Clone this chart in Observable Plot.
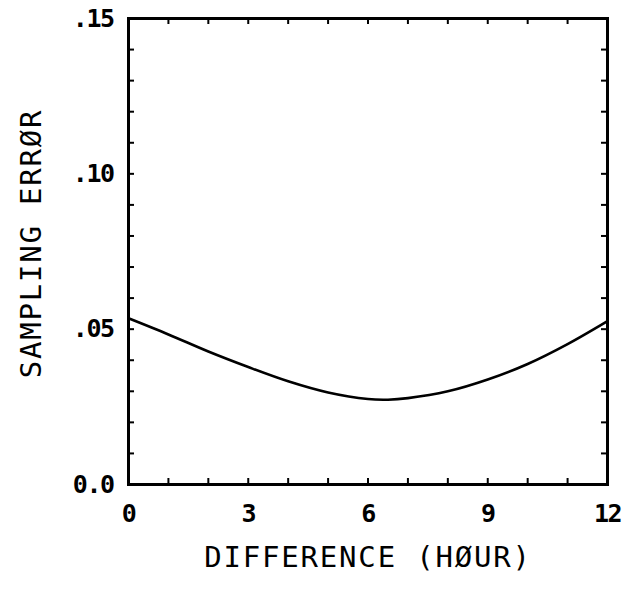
<!DOCTYPE html>
<html>
<head>
<meta charset="utf-8">
<script src="https://cdn.jsdelivr.net/npm/d3@7"></script>
<script src="https://cdn.jsdelivr.net/npm/@observablehq/plot@0.6"></script>
<style>
  html, body { margin: 0; padding: 0; background: #fff; }
  #chart svg { display: block; }
</style>
</head>
<body>
<div id="chart"></div>
<script>
// Data
const hours  = [0, 1, 2, 3, 4, 5, 6, 6.5, 7, 8, 9, 10, 11, 12];
const errors = [0.0535, 0.0483, 0.0428, 0.0378, 0.0332, 0.0296, 0.0275, 0.0273, 0.0278, 0.0300, 0.0338, 0.0388, 0.0452, 0.0526];

const xMinorTicks = [1, 2, 3, 4, 5, 6, 7, 8, 9, 10, 11];
const yMinorTicks = [0.01, 0.02, 0.03, 0.04, 0.05, 0.06, 0.07, 0.08, 0.09, 0.10, 0.11, 0.12, 0.13, 0.14];
const xTickLabels = [0, 3, 6, 9, 12];
const yTickValues = [0, 0.05, 0.10, 0.15];
const yTickLabels = ["0.0", ".05", ".10", ".15"];
const xTitle = "DIFFERENCE (HØUR)";
const yTitle = "SAMPLING ERRØR";

const W = 632, H = 593;
const mL = 128, mR = 25, mT = 18, mB = 109;
const innerW = W - mL - mR, innerH = H - mT - mB;
const tick = 6;

const rows = hours.map((h, i) => ({hour: h, err: errors[i]}));
const font = "DejaVu Sans Mono";

const chart = Plot.plot({
  width: W, height: H,
  marginLeft: mL, marginRight: mR, marginTop: mT, marginBottom: mB,
  style: {fontFamily: font, color: "#000", background: "#fff"},
  x: {domain: [0, 12], axis: null},
  y: {domain: [0, 0.15], axis: null},
  marks: [
    // inward minor ticks on all four sides
    Plot.ruleX(xMinorTicks, {x: d => d, insetTop: innerH - tick, strokeWidth: 2}),
    Plot.ruleX(xMinorTicks, {x: d => d, insetBottom: innerH - tick, strokeWidth: 2}),
    Plot.ruleY(yMinorTicks, {y: d => d, insetRight: innerW - tick, strokeWidth: 2}),
    Plot.ruleY(yMinorTicks, {y: d => d, insetLeft: innerW - tick, strokeWidth: 2}),
    Plot.frame({stroke: "#000", strokeWidth: 3}),
    Plot.axisX(xTickLabels, {anchor: "bottom", label: null, tickSize: 0, tickPadding: 20, fontSize: 25,
      fontWeight: "bold", tickFormat: d => String(d)}),
    Plot.axisY(yTickValues, {anchor: "left", label: null, tickSize: 0, tickPadding: 15, fontSize: 25,
      fontWeight: "bold", tickFormat: d => yTickLabels[yTickValues.indexOf(d)]}),
    Plot.line(rows, {x: "hour", y: "err", curve: "catmull-rom", stroke: "#000", strokeWidth: 2.6}),
    Plot.text([xTitle], {frameAnchor: "bottom", textAnchor: "middle", dy: 82, fontSize: 29, fill: "#000"}),
    Plot.text([yTitle], {frameAnchor: "left", textAnchor: "middle", dx: -97, dy: -8, rotate: -90, fontSize: 29, fill: "#000"})
  ]
});

document.getElementById("chart").appendChild(chart);
const sel = d3.select(chart).selectAll("text");
sel.filter(function() { return this.textContent === xTitle || this.textContent === yTitle; })
  .style("letter-spacing", "1.8px");
sel.filter(function() { return yTickLabels.includes(this.textContent) || xTickLabels.map(String).includes(this.textContent); })
  .style("letter-spacing", "-1.5px");
</script>
</body>
</html>
